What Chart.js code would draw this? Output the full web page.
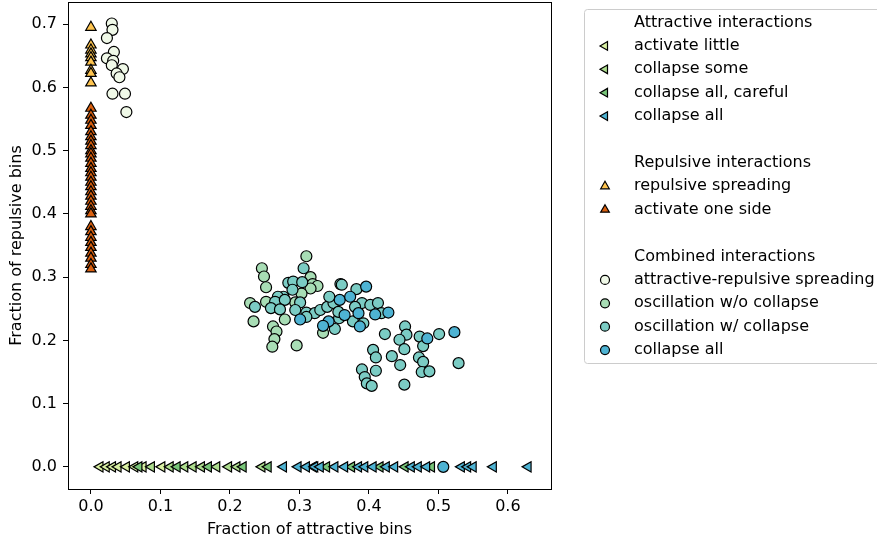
<!DOCTYPE html>
<html>
<head>
<meta charset="utf-8">
<script src="https://cdn.jsdelivr.net/npm/chart.js@4"></script>
<style>
  html, body { margin: 0; padding: 0; background: #fff; }
</style>
</head>
<body>
<canvas id="interacciones" width="877" height="542"></canvas>
<script>
// ejes
const xTicks = [0.0, 0.1, 0.2, 0.3, 0.4, 0.5, 0.6];
const yTicks = [0.0, 0.1, 0.2, 0.3, 0.4, 0.5, 0.6, 0.7];

// atractivas (y = 0): solo fracción atractiva
const activateLittleX = [0.013, 0.022, 0.031, 0.039, 0.051, 0.063, 0.075, 0.102];
const collapseSomeX = [0.087, 0.114, 0.135, 0.147, 0.159, 0.181, 0.198, 0.210, 0.246];
const collapseCarefulX = [0.069, 0.124, 0.169, 0.219, 0.255, 0.320, 0.339, 0.375, 0.416, 0.452, 0.490];
const collapseAllTriX = [0.277, 0.298, 0.310, 0.322, 0.330, 0.351, 0.365, 0.385, 0.394, 0.406, 0.425,
  0.437, 0.461, 0.471, 0.483, 0.533, 0.542, 0.550, 0.579, 0.629];

// repulsivas (x = 0): solo fracción repulsiva
const repulsiveSpreadingY = [0.695, 0.667, 0.659, 0.653, 0.647, 0.640, 0.627, 0.622, 0.607];
const activateOneSideY = [0.567, 0.556, 0.548, 0.540, 0.530, 0.522, 0.515, 0.508, 0.500, 0.495, 0.488,
  0.480, 0.472, 0.465, 0.458, 0.450, 0.443, 0.435, 0.428, 0.420, 0.412, 0.405, 0.400,
  0.380, 0.372, 0.363, 0.355, 0.347, 0.338, 0.330, 0.320, 0.313];

// combinadas
const arSpreadingX = [0.030, 0.031, 0.023, 0.033, 0.023, 0.032, 0.030, 0.046, 0.037, 0.041, 0.031, 0.049, 0.051];
const arSpreadingY = [0.701, 0.691, 0.678, 0.656, 0.646, 0.642, 0.635, 0.629, 0.622, 0.616, 0.590, 0.590, 0.561];

const oscNoCollapseX = [0.310, 0.246, 0.249, 0.252, 0.316, 0.319, 0.326, 0.316, 0.303, 0.229, 0.252, 0.294,
  0.234, 0.279, 0.262, 0.267, 0.264, 0.261, 0.296, 0.334];
const oscNoCollapseY = [0.333, 0.314, 0.301, 0.284, 0.300, 0.289, 0.286, 0.282, 0.274, 0.259, 0.261, 0.260,
  0.230, 0.233, 0.222, 0.214, 0.202, 0.190, 0.192, 0.212];

const oscCollapseX = [0.306, 0.284, 0.291, 0.304, 0.290, 0.277, 0.269, 0.236, 0.265, 0.279, 0.301, 0.259,
  0.272, 0.294, 0.310, 0.322, 0.330, 0.340, 0.349, 0.343, 0.359, 0.310, 0.351, 0.357, 0.356, 0.361,
  0.382, 0.390, 0.402, 0.413, 0.380, 0.418, 0.377, 0.392, 0.423, 0.452, 0.454, 0.444, 0.473, 0.501,
  0.478, 0.451, 0.406, 0.410, 0.433, 0.472, 0.478, 0.445, 0.529, 0.476, 0.487, 0.390, 0.410, 0.394,
  0.397, 0.404, 0.451];
const oscCollapseY = [0.314, 0.291, 0.293, 0.292, 0.280, 0.269, 0.269, 0.253, 0.261, 0.264, 0.260, 0.251,
  0.249, 0.248, 0.244, 0.243, 0.248, 0.253, 0.259, 0.269, 0.289, 0.237, 0.218, 0.235, 0.245, 0.288,
  0.281, 0.259, 0.256, 0.259, 0.253, 0.243, 0.230, 0.227, 0.210, 0.222, 0.209, 0.201, 0.206, 0.210,
  0.191, 0.186, 0.185, 0.173, 0.175, 0.173, 0.166, 0.161, 0.164, 0.150, 0.151, 0.154, 0.152, 0.142,
  0.132, 0.128, 0.130];

const collapseAllCircX = [0.358, 0.301, 0.342, 0.334, 0.396, 0.373, 0.365, 0.385, 0.409, 0.428, 0.387, 0.484, 0.523, 0.507];
const collapseAllCircY = [0.264, 0.233, 0.230, 0.223, 0.285, 0.269, 0.240, 0.243, 0.241, 0.244, 0.222, 0.203, 0.213, 0.000];

const fuente = "'DejaVu Sans', sans-serif";

const puntos = (xs, ys) => xs.map((x, i) => ({ x: x, y: ys[i] }));
const enCero = (xs) => xs.map((x) => ({ x: x, y: 0 }));
const enEjeY = (ys) => ys.map((y) => ({ x: 0, y: y }));

const series = [
  { label: 'activate little', data: enCero(activateLittleX), color: '#d9f0a3', forma: 'triangle', giro: -90 },
  { label: 'collapse some', data: enCero(collapseSomeX), color: '#addd8e', forma: 'triangle', giro: -90 },
  { label: 'collapse all, careful', data: enCero(collapseCarefulX), color: '#78c679', forma: 'triangle', giro: -90 },
  { label: 'collapse all', data: enCero(collapseAllTriX), color: '#4eb3d3', forma: 'triangle', giro: -90 },
  { label: 'repulsive spreading', data: enEjeY(repulsiveSpreadingY), color: '#fec44f', forma: 'triangle', giro: 0 },
  { label: 'activate one side', data: enEjeY(activateOneSideY), color: '#d95f0e', forma: 'triangle', giro: 0 },
  { label: 'attractive-repulsive spreading', data: puntos(arSpreadingX, arSpreadingY), color: '#f0f9e8', forma: 'circle', giro: 0 },
  { label: 'oscillation w/o collapse', data: puntos(oscNoCollapseX, oscNoCollapseY), color: '#a8ddb5', forma: 'circle', giro: 0 },
  { label: 'oscillation w/ collapse', data: puntos(oscCollapseX, oscCollapseY), color: '#7bccc4', forma: 'circle', giro: 0 },
  { label: 'collapse all', data: puntos(collapseAllCircX, collapseAllCircY), color: '#4eb3d3', forma: 'circle', giro: 0 }
];

const grupos = [
  { titulo: 'Attractive interactions', items: series.slice(0, 4) },
  { titulo: 'Repulsive interactions', items: series.slice(4, 6) },
  { titulo: 'Combined interactions', items: series.slice(6, 10) }
];

// marco completo + leyenda a la derecha
const marcoYLeyenda = {
  id: 'marcoYLeyenda',
  afterDatasetsDraw(chart) {
    const ctx = chart.ctx;
    const a = chart.chartArea;
    ctx.save();
    ctx.strokeStyle = '#000';
    ctx.lineWidth = 1;
    ctx.strokeRect(a.left + 0.5, a.top + 0.5, a.right - a.left, a.bottom - a.top);
    ctx.restore();
  },
  afterDraw(chart) {
    const ctx = chart.ctx;
    ctx.save();
    ctx.strokeStyle = '#cccccc';
    ctx.lineWidth = 1;
    ctx.beginPath();
    ctx.roundRect(584.5, 9.5, 320, 354, 3);
    ctx.stroke();

    ctx.font = '16px ' + fuente;
    ctx.textBaseline = 'middle';
    let y = 22.5;
    const paso = 23.4;
    grupos.forEach((g) => {
      ctx.fillStyle = '#000';
      ctx.fillText(g.titulo, 634, y);
      y += paso;
      g.items.forEach((s) => {
        ctx.fillStyle = s.color;
        ctx.strokeStyle = '#000';
        ctx.lineWidth = 1.2;
        Chart.helpers.drawPoint(ctx, {
          pointStyle: s.forma,
          rotation: s.giro,
          radius: s.forma === 'circle' ? 4.5 : 5,
          borderWidth: 1.2
        }, 605, y);
        ctx.fillStyle = '#000';
        ctx.fillText(s.label, 634, y);
        y += paso;
      });
      y += paso;
    });
    ctx.restore();
  }
};

const ctx = document.getElementById('interacciones');

new Chart(ctx, {
  type: 'scatter',
  data: {
    datasets: series.map((s, i) => ({
      label: s.label,
      data: s.data,
      order: series.length - i,
      pointStyle: s.forma,
      rotation: s.giro,
      pointRadius: s.forma === 'circle' ? 5.5 : 6,
      pointBackgroundColor: s.color,
      pointBorderColor: '#000',
      pointBorderWidth: 1.2
    }))
  },
  options: {
    responsive: false,
    animation: false,
    layout: {
      autoPadding: false,
      padding: { top: 2, right: 326, left: 0, bottom: 0 }
    },
    plugins: {
      legend: { display: false },
      tooltip: { enabled: false }
    },
    scales: {
      x: {
        type: 'linear',
        min: -0.033,
        max: 0.662,
        afterBuildTicks: (eje) => { eje.ticks = xTicks.map((v) => ({ value: v })); },
        afterFit: (eje) => {
          eje.height = 53;
          eje.paddingLeft = 0;
          eje.paddingRight = 0;
        },
        ticks: {
          callback: (v) => v.toFixed(1),
          color: '#000',
          padding: 3,
          font: { size: 16, family: fuente }
        },
        grid: { drawOnChartArea: false, tickLength: 5, tickColor: '#000', tickWidth: 1 },
        border: { color: '#000', width: 1 },
        title: {
          display: true,
          text: 'Fraction of attractive bins',
          color: '#000',
          font: { size: 16, family: fuente },
          padding: { top: 0, bottom: 3 }
        }
      },
      y: {
        type: 'linear',
        min: -0.035,
        max: 0.735,
        afterBuildTicks: (eje) => { eje.ticks = yTicks.map((v) => ({ value: v })); },
        afterFit: (eje) => {
          eje.width = 68;
          eje.paddingTop = 0;
          eje.paddingBottom = 0;
        },
        ticks: {
          callback: (v) => v.toFixed(1),
          color: '#000',
          padding: 6,
          font: { size: 16, family: fuente }
        },
        grid: { drawOnChartArea: false, tickLength: 5, tickColor: '#000', tickWidth: 1 },
        border: { color: '#000', width: 1 },
        title: {
          display: true,
          text: 'Fraction of repulsive bins',
          color: '#000',
          font: { size: 16, family: fuente },
          padding: { top: 7, bottom: 0 }
        }
      }
    }
  },
  plugins: [marcoYLeyenda]
});
</script>
</body>
</html>
